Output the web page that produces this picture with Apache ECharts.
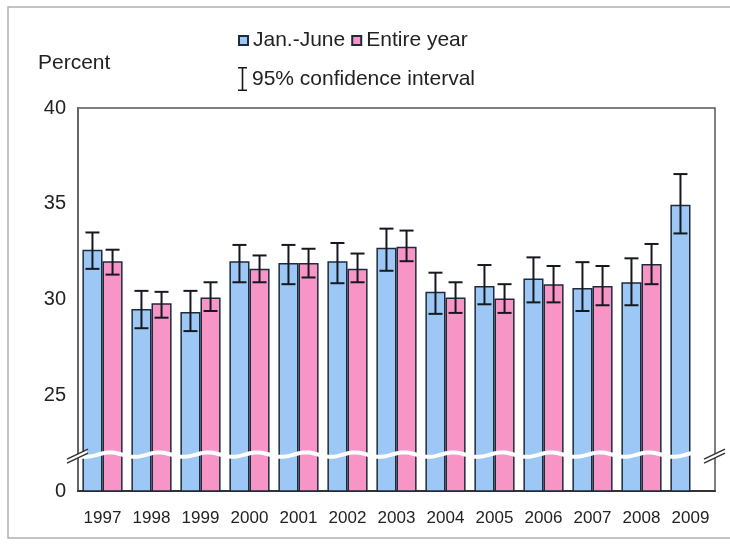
<!DOCTYPE html>
<html>
<head>
<meta charset="utf-8">
<script src="https://cdn.jsdelivr.net/npm/echarts@6/dist/echarts.min.js"></script>
<style>html,body{margin:0;padding:0;background:#fff}#c{width:730px;height:544px}</style>
</head>
<body>
<div id="c"></div>
<script>
const years = ['1997','1998','1999','2000','2001','2002','2003','2004','2005','2006','2007','2008','2009'];
const janJune      = [32.6, 29.5, 29.35, 32.0, 31.9, 32.0, 32.7, 30.4, 30.7, 31.1, 30.6, 30.9, 34.95];
const janJuneLow   = [31.6, 28.5, 28.35, 30.9, 30.8, 30.85, 31.5, 29.25, 29.75, 29.85, 29.4, 29.7, 33.45];
const janJuneHigh  = [33.5, 30.45, 30.45, 32.85, 32.85, 32.95, 33.7, 31.4, 31.8, 32.2, 31.95, 32.15, 36.55];
const entireYear     = [32.0, 29.8, 30.1, 31.6, 31.9, 31.6, 32.75, 30.1, 30.05, 30.8, 30.7, 31.85, null];
const entireYearLow  = [31.3, 29.05, 29.4, 30.9, 31.15, 30.9, 32.0, 29.3, 29.3, 29.85, 29.7, 30.8, null];
const entireYearHigh = [32.6, 30.4, 30.9, 32.3, 32.65, 32.4, 33.6, 30.9, 30.8, 31.75, 31.75, 32.9, null];
const yTicks = [20, 25, 30, 35, 40];
const yTickLabels = ['0', '25', '30', '35', '40'];
const breakValue = 21.9;

const FONT = "'Liberation Sans', Arial, sans-serif";
const BLUE = '#9dc8f5', PINK = '#f895c7', EDGE = '#1e2b3c', ERR = '#15191f';
const CAT_GAP = 0.18;

function errSeries(name, low, high, side) {
  return {
    type: 'custom', name: name, z: 5,
    data: years.map((y, i) => low[i] == null ? null : [i, low[i], high[i]]),
    encode: { x: 0, y: [1, 2] },
    renderItem: function (params, api) {
      const i = api.value(0);
      const band = api.size([1, 0])[0];
      const bw = band * (1 - CAT_GAP) / 2;
      const lo = api.coord([i, api.value(1)]);
      const hi = api.coord([i, api.value(2)]);
      const x = lo[0] + side * bw / 2;
      const cap = 7;
      const st = { stroke: ERR, lineWidth: 2 };
      return { type: 'group', children: [
        { type: 'line', shape: { x1: x, y1: hi[1], x2: x, y2: lo[1] }, style: st },
        { type: 'line', shape: { x1: x - cap, y1: hi[1], x2: x + cap, y2: hi[1] }, style: st },
        { type: 'line', shape: { x1: x - cap, y1: lo[1], x2: x + cap, y2: lo[1] }, style: st }
      ]};
    }
  };
}

const chart = echarts.init(document.getElementById('c'), null, { renderer: 'canvas' });
chart.setOption({
  animation: false,
  textStyle: { fontFamily: FONT },
  title: { text: 'Percent', left: 38, top: 53, padding: 0,
    textStyle: { fontFamily: FONT, fontSize: 21, fontWeight: 'normal', color: '#222' } },
  graphic: [{ type: 'rect', shape: { x: 8, y: 7, width: 740, height: 531 }, style: { fill: 'none', stroke: '#b0b0b0', lineWidth: 1.5 }, z: 100 }],
  legend: [
    { data: [{ name: 'Jan.-June', icon: 'rect' }, { name: 'Entire year', icon: 'rect' }],
      left: 238, top: 30, padding: 0, itemWidth: 9, itemHeight: 9, itemGap: 6,
      textStyle: { fontFamily: FONT, fontSize: 21, color: '#222' } },
    { data: [{ name: '95% confidence interval', icon: 'path://M0,0h9v1.6h-9z M3.7,0h1.6v24h-1.6z M0,22.4h9v1.6h-9z' }],
      left: 238, top: 67, padding: 0, itemWidth: 9, itemHeight: 24, selectedMode: false,
      itemStyle: { color: ERR },
      textStyle: { fontFamily: FONT, fontSize: 21, color: '#222' } }
  ],
  grid: { left: 78, right: 15, top: 108, bottom: 53, show: true, borderColor: '#555', borderWidth: 1.5 },
  xAxis: {
    type: 'category', data: years,
    axisLine: { lineStyle: { color: '#333', width: 2 } },
    axisTick: { show: false },
    axisLabel: { interval: 0, fontSize: 17, color: '#222', margin: 19, fontFamily: FONT }
  },
  yAxis: {
    type: 'value', min: 20, max: 40, interval: 5,
    splitLine: { show: false },
    axisLine: { show: true, lineStyle: { color: '#666', width: 2 } },
    axisTick: { show: false },
    axisLabel: { fontSize: 20, color: '#222', margin: 12, fontFamily: FONT,
      formatter: v => { const k = yTicks.indexOf(v); return k >= 0 ? yTickLabels[k] : ''; } }
  },
  series: [
    { type: 'bar', name: 'Jan.-June', data: janJune, barGap: '0%', barCategoryGap: (CAT_GAP * 100) + '%', clip: true,
      itemStyle: { color: BLUE, borderColor: EDGE, borderWidth: 1.5 } },
    { type: 'bar', name: 'Entire year', data: entireYear, clip: true,
      itemStyle: { color: PINK, borderColor: EDGE, borderWidth: 1.5 } },
    errSeries('95% confidence interval', janJuneLow, janJuneHigh, -1),
    errSeries('95% confidence interval', entireYearLow, entireYearHigh, 1),
    {
      type: 'custom', name: 'break', z: 6, silent: true,
      data: [[0, breakValue]],
      encode: { x: 0, y: 1 },
      renderItem: function (params, api) {
        const cs = params.coordSys;
        const y = api.coord([0, api.value(1)])[1];
        const pts = [];
        for (let x = cs.x + 1; x <= cs.x + cs.width - 1; x += 2) {
          const t = (x - cs.x) / (cs.width / 13);
          pts.push([x, y + 2.2 * Math.sin(t * 2 * Math.PI + 0.6)]);
        }
        const mk = (cx) => [
          { type: 'polygon', shape: { points: [[cx - 10, y + 4], [cx + 9, y - 5], [cx + 9, y - 1], [cx - 10, y + 8]] }, style: { fill: '#fff' } },
          { type: 'line', shape: { x1: cx - 11, y1: y + 4.5, x2: cx + 10, y2: y - 5.5 }, style: { stroke: '#333', lineWidth: 1.5 } },
          { type: 'line', shape: { x1: cx - 11, y1: y + 8.5, x2: cx + 10, y2: y - 1.5 }, style: { stroke: '#333', lineWidth: 1.5 } }
        ];
        return { type: 'group', children: [
          { type: 'polyline', shape: { points: pts }, style: { stroke: '#fff', lineWidth: 4, fill: 'none' } }
        ].concat(mk(cs.x), mk(cs.x + cs.width)) };
      }
    }
  ]
});
</script>
</body>
</html>
